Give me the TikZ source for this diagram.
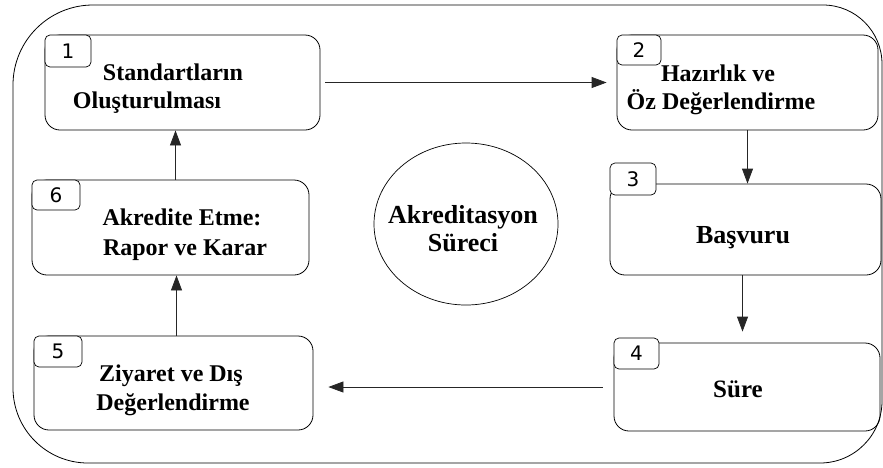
\documentclass[tikz,border=0pt]{standalone}
\usepackage{fontspec}
\setmainfont{Liberation Serif}
\newfontfamily\numfont{DejaVu Sans}
\usetikzlibrary{arrows.meta,shapes.geometric,calc}
\tikzset{
  mainbox/.style={draw=black, line width=0.8pt, rounded corners=15pt, fill=none, inner sep=0pt},
  numbox/.style={draw=black, line width=0.7pt, rounded corners=5pt, inner sep=0pt,
    font=\numfont\fontsize{20}{20}\selectfont},
  lbl/.style={inner sep=0pt, anchor=base, font=\bfseries\fontsize{24}{28}\selectfont},
  lblbig/.style={lbl, font=\bfseries\fontsize{26}{30}\selectfont},
  lblmid/.style={lbl, font=\bfseries\fontsize{25}{30}\selectfont},
  flow/.style={draw=black!85, line width=0.8pt, -{Triangle[length=15pt,width=11pt]}},
  frame/.style={draw=black, line width=0.8pt}
}
\begin{document}
\begin{tikzpicture}[x=1pt,y=-1pt]
\useasboundingbox (0,0) rectangle (883,467);
% outer frame
\draw[frame] (93,5) -- (823,5)
  arc[start angle=270, end angle=360, radius=59]
  -- (882,401)
  arc[start angle=0, end angle=90, radius=62]
  -- (88,463)
  arc[start angle=90, end angle=180, radius=75]
  -- (13,85)
  arc[start angle=180, end angle=270, radius=80] -- cycle;

% main boxes
\node[mainbox, minimum width=275pt, minimum height=95pt] (b1) at (182.5,82.5) {};
\node[mainbox, minimum width=261pt, minimum height=95pt] (b2) at (747.5,82.5) {};
\node[mainbox, minimum width=271pt, minimum height=91pt] (b3) at (745.5,229.5) {};
\node[mainbox, minimum width=266pt, minimum height=88pt] (b4) at (747,387) {};
\node[mainbox, minimum width=279pt, minimum height=94pt] (b5) at (173.5,383) {};
\node[mainbox, minimum width=277pt, minimum height=95pt] (b6) at (170.5,227.5) {};

% number boxes
\node[numbox, fill=white, minimum width=46pt, minimum height=32pt] (n1) at (68,51) {1};
\node[numbox, fill=white, minimum width=44pt, minimum height=30pt] (n2) at (639,50) {2};
\node[numbox, fill=white, minimum width=46pt, minimum height=32pt] (n3) at (633,179) {3};
\node[numbox, fill=white, minimum width=45pt, minimum height=31pt] (n4) at (636.5,353.5) {4};
\node[numbox, fill=white, minimum width=48pt, minimum height=31pt] (n5) at (58,351.5) {5};
\node[numbox, fill=white, minimum width=48pt, minimum height=30pt] (n6) at (56,195) {6};

% texts
\node[lbl] (t1a) at (173,80) {Standartların};
\node[lbl] (t1b) at (147,108) {Oluşturulması};
\node[lbl] (t2a) at (718,81) {Hazırlık ve};
\node[lbl] (t2b) at (721,109) {Öz Değerlendirme};
\node[lblbig] (t3) at (743,243) {Başvuru};
\node[lblmid] (t4) at (738,397) {Süre};
\node[lbl] (t6a) at (182,225) {Akredite Etme:};
\node[lbl] (t6b) at (185,255) {Rapor ve Karar};
\node[lbl] (t5a) at (171,381) {Ziyaret ve Dış};
\node[lbl] (t5b) at (173,410) {Değerlendirme};

% centre ellipse
\node[ellipse, draw=black, line width=0.7pt, minimum width=184pt, minimum height=162pt, inner sep=0pt] (c) at (466,224) {};
\node[lblbig] (c1) at (463,223) {Akreditasyon};
\node[lblbig] (c2) at (463,251) {Süreci};

% connectors
\draw[flow] ([xshift=5pt]b1.east) -- ([xshift=-10pt]b2.west);
\draw[flow] (b2.south) -- (b2.south |- b3.north);
\draw[flow] ([xshift=-3pt]b3.south) -- ([xshift=-3pt,yshift=11pt]b3.south |- b4.north);
\draw[flow] ([xshift=-11pt]b4.west) -- ([xshift=15pt]b5.east |- b4.west);
\draw[flow] ([xshift=3pt]b5.north) -- ([xshift=3pt]b5.north |- b6.south);
\draw[flow] ([xshift=5pt]b6.north) -- ([xshift=5pt]b6.north |- b1.south);
\end{tikzpicture}
\end{document}
